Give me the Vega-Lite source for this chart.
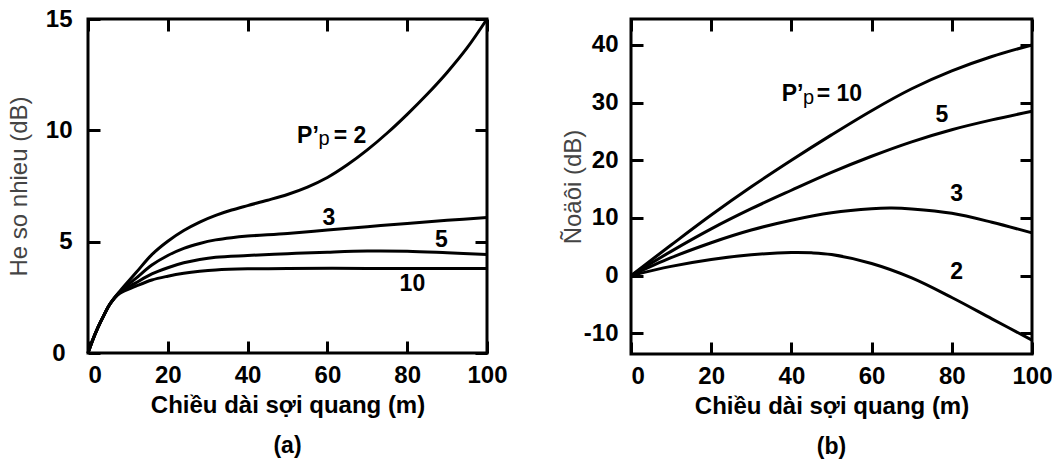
{
  "$schema": "https://vega.github.io/schema/vega-lite/v6.json",
  "background": "white",
  "padding": {"left": 5, "top": 5, "right": 0, "bottom": 0},
  "config": {
    "font": "Liberation Sans",
    "view": {"stroke": "black", "strokeWidth": 3},
    "axis": {"domain": false, "grid": false, "ticks": true, "tickSize": -12, "tickWidth": 3, "tickColor": "black", "labelFont": "Liberation Sans", "labelFontSize": 24, "labelFontWeight": "bold", "labelColor": "black", "titleFont": "Liberation Sans", "titleFontSize": 24, "titleColor": "black"},
    "title": {"font": "Liberation Sans", "fontSize": 23, "fontWeight": "bold", "color": "black"}
  },
  "datasets": {
    "a": [
      {"p": "2", "x": 0, "y": 0}, {"p": "2", "x": 1, "y": 0.5}, {"p": "2", "x": 2.5, "y": 1.15}, {"p": "2", "x": 4, "y": 1.7}, {"p": "2", "x": 5.5, "y": 2.2}, {"p": "2", "x": 8, "y": 2.78}, {"p": "2", "x": 12, "y": 3.6}, {"p": "2", "x": 16, "y": 4.42}, {"p": "2", "x": 20, "y": 5.02}, {"p": "2", "x": 24, "y": 5.5}, {"p": "2", "x": 28, "y": 5.88}, {"p": "2", "x": 32, "y": 6.18}, {"p": "2", "x": 36, "y": 6.42}, {"p": "2", "x": 40, "y": 6.62}, {"p": "2", "x": 45, "y": 6.86}, {"p": "2", "x": 50, "y": 7.12}, {"p": "2", "x": 55, "y": 7.45}, {"p": "2", "x": 60, "y": 7.88}, {"p": "2", "x": 65, "y": 8.45}, {"p": "2", "x": 70, "y": 9.12}, {"p": "2", "x": 75, "y": 9.88}, {"p": "2", "x": 80, "y": 10.72}, {"p": "2", "x": 85, "y": 11.62}, {"p": "2", "x": 90, "y": 12.6}, {"p": "2", "x": 95, "y": 13.7}, {"p": "2", "x": 100, "y": 15},
      {"p": "3", "x": 0, "y": 0}, {"p": "3", "x": 1, "y": 0.5}, {"p": "3", "x": 2.5, "y": 1.15}, {"p": "3", "x": 4, "y": 1.7}, {"p": "3", "x": 5.5, "y": 2.2}, {"p": "3", "x": 8, "y": 2.75}, {"p": "3", "x": 12, "y": 3.35}, {"p": "3", "x": 16, "y": 3.95}, {"p": "3", "x": 20, "y": 4.38}, {"p": "3", "x": 24, "y": 4.7}, {"p": "3", "x": 28, "y": 4.92}, {"p": "3", "x": 32, "y": 5.08}, {"p": "3", "x": 36, "y": 5.18}, {"p": "3", "x": 40, "y": 5.25}, {"p": "3", "x": 50, "y": 5.37}, {"p": "3", "x": 60, "y": 5.52}, {"p": "3", "x": 70, "y": 5.67}, {"p": "3", "x": 80, "y": 5.82}, {"p": "3", "x": 90, "y": 5.96}, {"p": "3", "x": 100, "y": 6.08},
      {"p": "5", "x": 0, "y": 0}, {"p": "5", "x": 1, "y": 0.5}, {"p": "5", "x": 2.5, "y": 1.15}, {"p": "5", "x": 4, "y": 1.7}, {"p": "5", "x": 5.5, "y": 2.2}, {"p": "5", "x": 8, "y": 2.72}, {"p": "5", "x": 12, "y": 3.15}, {"p": "5", "x": 16, "y": 3.55}, {"p": "5", "x": 20, "y": 3.83}, {"p": "5", "x": 24, "y": 4.05}, {"p": "5", "x": 28, "y": 4.2}, {"p": "5", "x": 32, "y": 4.3}, {"p": "5", "x": 40, "y": 4.38}, {"p": "5", "x": 50, "y": 4.46}, {"p": "5", "x": 60, "y": 4.53}, {"p": "5", "x": 70, "y": 4.58}, {"p": "5", "x": 80, "y": 4.57}, {"p": "5", "x": 90, "y": 4.5}, {"p": "5", "x": 100, "y": 4.42},
      {"p": "10", "x": 0, "y": 0}, {"p": "10", "x": 1, "y": 0.5}, {"p": "10", "x": 2.5, "y": 1.15}, {"p": "10", "x": 4, "y": 1.7}, {"p": "10", "x": 5.5, "y": 2.2}, {"p": "10", "x": 8, "y": 2.68}, {"p": "10", "x": 12, "y": 3.0}, {"p": "10", "x": 16, "y": 3.28}, {"p": "10", "x": 20, "y": 3.45}, {"p": "10", "x": 24, "y": 3.58}, {"p": "10", "x": 28, "y": 3.67}, {"p": "10", "x": 32, "y": 3.73}, {"p": "10", "x": 40, "y": 3.78}, {"p": "10", "x": 50, "y": 3.8}, {"p": "10", "x": 70, "y": 3.8}, {"p": "10", "x": 85, "y": 3.8}, {"p": "10", "x": 100, "y": 3.8}
    ],
    "b": [
      {"p": "10", "x": 0, "y": 0}, {"p": "10", "x": 10, "y": 5.3}, {"p": "10", "x": 20, "y": 10.5}, {"p": "10", "x": 30, "y": 15.4}, {"p": "10", "x": 40, "y": 20.0}, {"p": "10", "x": 50, "y": 24.4}, {"p": "10", "x": 60, "y": 28.6}, {"p": "10", "x": 70, "y": 32.4}, {"p": "10", "x": 80, "y": 35.5}, {"p": "10", "x": 90, "y": 38.0}, {"p": "10", "x": 100, "y": 40.0},
      {"p": "5", "x": 0, "y": 0}, {"p": "5", "x": 10, "y": 4.2}, {"p": "5", "x": 20, "y": 8.1}, {"p": "5", "x": 30, "y": 11.6}, {"p": "5", "x": 40, "y": 14.8}, {"p": "5", "x": 50, "y": 17.9}, {"p": "5", "x": 60, "y": 20.7}, {"p": "5", "x": 70, "y": 23.2}, {"p": "5", "x": 80, "y": 25.3}, {"p": "5", "x": 90, "y": 27.0}, {"p": "5", "x": 100, "y": 28.5},
      {"p": "3", "x": 0, "y": 0}, {"p": "3", "x": 10, "y": 3.1}, {"p": "3", "x": 20, "y": 5.7}, {"p": "3", "x": 30, "y": 7.9}, {"p": "3", "x": 40, "y": 9.6}, {"p": "3", "x": 50, "y": 10.9}, {"p": "3", "x": 60, "y": 11.6}, {"p": "3", "x": 65, "y": 11.7}, {"p": "3", "x": 70, "y": 11.55}, {"p": "3", "x": 80, "y": 10.8}, {"p": "3", "x": 90, "y": 9.25}, {"p": "3", "x": 100, "y": 7.4},
      {"p": "2", "x": 0, "y": 0}, {"p": "2", "x": 10, "y": 1.6}, {"p": "2", "x": 20, "y": 2.8}, {"p": "2", "x": 30, "y": 3.6}, {"p": "2", "x": 40, "y": 4.0}, {"p": "2", "x": 45, "y": 3.95}, {"p": "2", "x": 50, "y": 3.65}, {"p": "2", "x": 60, "y": 2.1}, {"p": "2", "x": 70, "y": -0.4}, {"p": "2", "x": 80, "y": -3.8}, {"p": "2", "x": 90, "y": -7.5}, {"p": "2", "x": 100, "y": -11.2}
    ],
    "pa": [{"x": 52.4, "y": 9.44, "t": "P’"}, {"x": 61.6, "y": 9.44, "t": "= 2"}],
    "sa": [{"x": 57.8, "y": 9.32, "t": "p"}],
    "da": [{"x": 60.4, "y": 6.08, "t": "3"}, {"x": 88.6, "y": 5.07, "t": "5"}, {"x": 81.3, "y": 3.08, "t": "10"}],
    "pb": [{"x": 37.6, "y": 30.2, "t": "P’"}, {"x": 46.3, "y": 30.2, "t": "= 10"}],
    "sb": [{"x": 42.9, "y": 29.7, "t": "p"}],
    "db": [{"x": 77.5, "y": 27.8, "t": "5"}, {"x": 81.2, "y": 14.2, "t": "3"}, {"x": 81.2, "y": 0.56, "t": "2"}]
  },
  "spacing": 144,
  "bounds": "flush",
  "hconcat": [
    {
      "width": 399,
      "height": 334,
      "title": {"text": "(a)", "orient": "bottom", "offset": 18},
      "resolve": {"axis": {"x": "independent", "y": "independent"}},
      "layer": [
        {
          "data": {"name": "a"},
          "mark": {"type": "line", "stroke": "black", "strokeWidth": 3, "interpolate": "catmull-rom"},
          "encoding": {
            "x": {"field": "x", "type": "quantitative", "scale": {"domain": [0, 100], "nice": false, "zero": false},
                  "axis": {"orient": "bottom", "values": [0, 20, 40, 60, 80, 100], "title": "Chiều dài sợi quang (m)", "titleFontWeight": "bold", "labelPadding": 22, "titlePadding": 6,
                           "labelAlign": {"condition": {"test": "datum.value == 0", "value": "left"}, "value": "center"}}},
            "y": {"field": "y", "type": "quantitative", "scale": {"domain": [0, 15], "nice": false},
                  "axis": {"orient": "left", "values": [0, 5, 10, 15], "title": "He so nhieu (dB)", "titleFontWeight": "normal", "titleColor": "#444444",
                           "labelPadding": {"condition": {"test": "datum.value == 0", "value": 35}, "value": 28}, "titlePadding": 14}},
            "detail": {"field": "p"}
          }
        },
        {
          "data": {"name": "pa"},
          "mark": {"type": "text", "align": "left", "baseline": "alphabetic", "fontSize": 23, "fontWeight": "bold", "color": "black"},
          "encoding": {
            "x": {"field": "x", "type": "quantitative", "scale": {"domain": [0, 100], "nice": false, "zero": false},
                  "axis": {"orient": "top", "values": [0, 20, 40, 60, 80, 100], "labels": false, "title": null}},
            "y": {"field": "y", "type": "quantitative", "scale": {"domain": [0, 15], "nice": false},
                  "axis": {"orient": "right", "values": [0, 5, 10, 15], "labels": false, "title": null}},
            "text": {"field": "t"}
          }
        },
        {
          "data": {"name": "sa"},
          "mark": {"type": "text", "align": "left", "baseline": "alphabetic", "fontSize": 20, "fontWeight": "normal", "color": "black"},
          "encoding": {
            "x": {"field": "x", "type": "quantitative", "axis": null},
            "y": {"field": "y", "type": "quantitative", "axis": null},
            "text": {"field": "t"}
          }
        },
        {
          "data": {"name": "da"},
          "mark": {"type": "text", "align": "center", "baseline": "middle", "fontSize": 23, "fontWeight": "bold", "color": "black"},
          "encoding": {
            "x": {"field": "x", "type": "quantitative", "axis": null},
            "y": {"field": "y", "type": "quantitative", "axis": null},
            "text": {"field": "t"}
          }
        }
      ]
    },
    {
      "width": 401,
      "height": 335,
      "title": {"text": "(b)", "orient": "bottom", "offset": 18},
      "resolve": {"axis": {"x": "independent", "y": "independent"}},
      "layer": [
        {
          "data": {"name": "b"},
          "mark": {"type": "line", "stroke": "black", "strokeWidth": 3, "interpolate": "catmull-rom"},
          "encoding": {
            "x": {"field": "x", "type": "quantitative", "scale": {"domain": [0, 100], "nice": false, "zero": false},
                  "axis": {"orient": "bottom", "values": [0, 20, 40, 60, 80, 100], "title": "Chiều dài sợi quang (m)", "titleFontWeight": "bold", "labelPadding": 22, "titlePadding": 6,
                           "labelAlign": {"condition": {"test": "datum.value == 0", "value": "left"}, "value": "center"}}},
            "y": {"field": "y", "type": "quantitative", "scale": {"domain": [-13.6, 44.5], "nice": false, "zero": false},
                  "axis": {"orient": "left", "values": [-10, 0, 10, 20, 30, 40], "labelExpr": "'' + datum.value", "title": "Ñoäôi (dB)", "titleFontWeight": "normal", "titleColor": "#444444", "labelPadding": 25, "titlePadding": -2}},
            "detail": {"field": "p"}
          }
        },
        {
          "data": {"name": "pb"},
          "mark": {"type": "text", "align": "left", "baseline": "alphabetic", "fontSize": 23, "fontWeight": "bold", "color": "black"},
          "encoding": {
            "x": {"field": "x", "type": "quantitative", "scale": {"domain": [0, 100], "nice": false, "zero": false},
                  "axis": {"orient": "top", "values": [0, 20, 40, 60, 80, 100], "labels": false, "title": null}},
            "y": {"field": "y", "type": "quantitative", "scale": {"domain": [-13.6, 44.5], "nice": false, "zero": false},
                  "axis": {"orient": "right", "values": [-10, 0, 10, 20, 30, 40], "labels": false, "title": null}},
            "text": {"field": "t"}
          }
        },
        {
          "data": {"name": "sb"},
          "mark": {"type": "text", "align": "left", "baseline": "alphabetic", "fontSize": 20, "fontWeight": "normal", "color": "black"},
          "encoding": {
            "x": {"field": "x", "type": "quantitative", "axis": null},
            "y": {"field": "y", "type": "quantitative", "axis": null},
            "text": {"field": "t"}
          }
        },
        {
          "data": {"name": "db"},
          "mark": {"type": "text", "align": "center", "baseline": "middle", "fontSize": 23, "fontWeight": "bold", "color": "black"},
          "encoding": {
            "x": {"field": "x", "type": "quantitative", "axis": null},
            "y": {"field": "y", "type": "quantitative", "axis": null},
            "text": {"field": "t"}
          }
        }
      ]
    }
  ]
}
